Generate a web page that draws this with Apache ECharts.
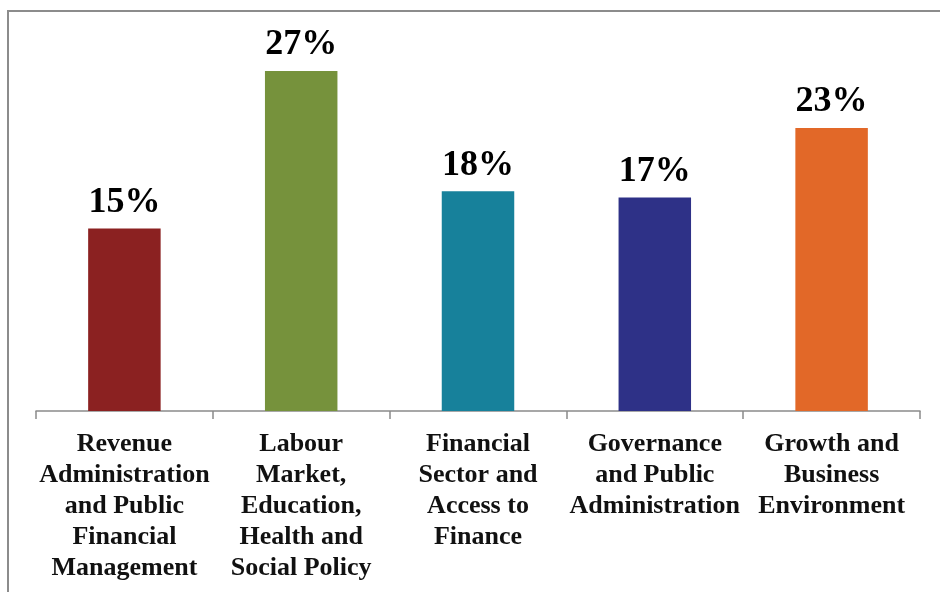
<!DOCTYPE html>
<html>
<head>
<meta charset="utf-8">
<script src="https://cdn.jsdelivr.net/npm/echarts@6/dist/echarts.min.js"></script>
<style>html,body{margin:0;padding:0;background:#fff}#c{width:940px;height:592px}</style>
</head>
<body>
<div id="c"></div>
<script>
var categories = [
  "Revenue\nAdministration\nand Public\nFinancial\nManagement",
  "Labour\nMarket,\nEducation,\nHealth and\nSocial Policy",
  "Financial\nSector and\nAccess to\nFinance",
  "Governance\nand Public\nAdministration",
  "Growth and\nBusiness\nEnvironment"
];
var values = [14.7, 27.4, 17.7, 17.2, 22.8];
var colors = ["#8B2121", "#76923C", "#17819B", "#2E3187", "#E26828"];

var chart = echarts.init(document.getElementById('c'), null, {renderer: 'canvas'});
chart.setOption({
  animation: false,
  backgroundColor: '#ffffff',
  graphic: [
    {type: 'line', shape: {x1: 7, y1: 11, x2: 940, y2: 11}, style: {stroke: '#8c8c8c', lineWidth: 2}},
    {type: 'line', shape: {x1: 8, y1: 10, x2: 8, y2: 592}, style: {stroke: '#8c8c8c', lineWidth: 2}}
  ],
  grid: {left: 36, right: 20, top: 30, bottom: 181, containLabel: false},
  xAxis: {
    type: 'category',
    data: categories,
    axisLine: {lineStyle: {color: '#8a8a8a', width: 1.5}},
    axisTick: {show: true, length: 8, lineStyle: {color: '#8a8a8a', width: 1.5}},
    axisLabel: {
      interval: 0,
      margin: 18,
      fontFamily: '"Liberation Serif", "Times New Roman", serif',
      fontWeight: 'bold',
      fontSize: 26,
      lineHeight: 31,
      color: '#111'
    }
  },
  yAxis: {
    type: 'value',
    min: 0,
    max: 30.7,
    show: false,
    splitLine: {show: false}
  },
  series: [{
    type: 'bar',
    barWidth: '41%',
    data: values.map(function (v, i) { return {value: v, itemStyle: {color: colors[i]}}; }),
    label: {
      show: true,
      position: 'top',
      distance: 8,
      formatter: function (p) { return Math.round(p.value) + '%'; },
      fontFamily: '"Liberation Serif", "Times New Roman", serif',
      fontWeight: 'bold',
      fontSize: 36,
      color: '#000'
    }
  }]
});
</script>
</body>
</html>
